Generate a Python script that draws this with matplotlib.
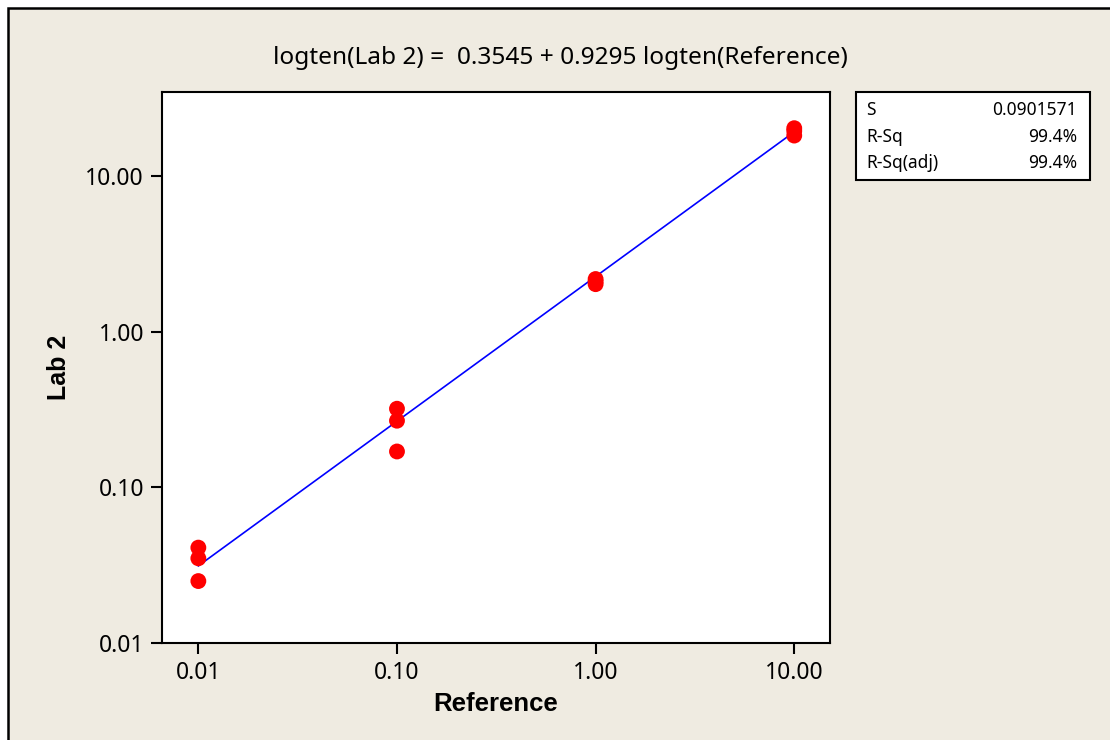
import numpy as np
import matplotlib
matplotlib.use("Agg")
import matplotlib.pyplot as plt
from matplotlib.patches import Rectangle

plt.rcParams['font.family'] = ['Noto Sans', 'DejaVu Sans']

# Data
reference = [0.01, 0.01, 0.01, 0.1, 0.1, 0.1, 1.0, 1.0, 1.0, 10.0, 10.0, 10.0]
lab2 = [0.041, 0.035, 0.025, 0.320, 0.268, 0.170, 2.18, 2.10, 2.02, 20.3, 19.5, 18.2]
intercept = 0.3545
slope = 0.9295
fit_x = [0.01, 10.0]
tick_vals = [0.01, 0.1, 1.0, 10.0]
tick_labels = ["0.01", "0.10", "1.00", "10.00"]
stats_names = ["S", "R-Sq", "R-Sq(adj)"]
stats_values = ["0.0901571", "99.4%", "99.4%"]

W, H = 1110, 740
fig = plt.figure(figsize=(W / 100, H / 100), dpi=100)
fig.patch.set_facecolor("white")

# beige panel with black frame (cropped at right/bottom)
bg = Rectangle((8 / W, -0.01), 1.1, 1 - 8 / H + 0.01, transform=fig.transFigure,
               facecolor="#EFEBE1", edgecolor="black", linewidth=1.8, zorder=-10)
fig.patches.append(bg)

ax = fig.add_axes([162 / W, (H - 643) / H, (830 - 162) / W, (643 - 92) / H])
ax.set_facecolor("white")
ax.set_xscale("log")
ax.set_yscale("log")
ax.set_xlim(10 ** -2.183, 10 ** 1.18)
ax.set_ylim(0.01, 10 ** 1.54)

fx = np.array(fit_x)
fy = 10 ** (intercept + slope * np.log10(fx))
ax.plot(fx, fy, color="#0000FF", linewidth=1.2, zorder=2)
ax.scatter(reference, lab2, s=130, color="#FF0000", edgecolors="none", zorder=3)

ax.set_xticks(tick_vals)
ax.set_xticklabels(tick_labels)
ax.set_yticks(tick_vals)
ax.set_yticklabels(tick_labels)
ax.minorticks_off()
ax.tick_params(axis="both", direction="out", length=8, width=1.5, labelsize=16.5, colors="black", pad=5)
for sp in ax.spines.values():
    sp.set_linewidth(1.5)
    sp.set_color("black")

ax.set_xlabel("Reference", fontsize=18.5, fontweight="bold", family=["Liberation Sans", "DejaVu Sans"], labelpad=5)
ax.set_ylabel("Lab 2", fontsize=18, fontweight="bold", family=["Liberation Sans", "DejaVu Sans"], labelpad=10)

fig.text(560 / W, 1 - 58 / H, "logten(Lab 2) =  0.3545 + 0.9295 logten(Reference)",
         ha="center", va="center", fontsize=17.6)

# stats box
bx0, by0, bx1, by1 = 856, 92, 1090, 180
box = Rectangle((bx0 / W, 1 - by1 / H), (bx1 - bx0) / W, (by1 - by0) / H,
                transform=fig.transFigure, facecolor="white", edgecolor="black", linewidth=1.5)
fig.patches.append(box)
rows_y = [110, 137, 163]
for name, val, yy in zip(stats_names, stats_values, rows_y):
    fig.text(866 / W, 1 - yy / H, name, ha="left", va="center", fontsize=12.5)
    fig.text(1077 / W, 1 - yy / H, val, ha="right", va="center", fontsize=12.5)

fig.savefig("out.png", dpi=100, facecolor=fig.get_facecolor())
